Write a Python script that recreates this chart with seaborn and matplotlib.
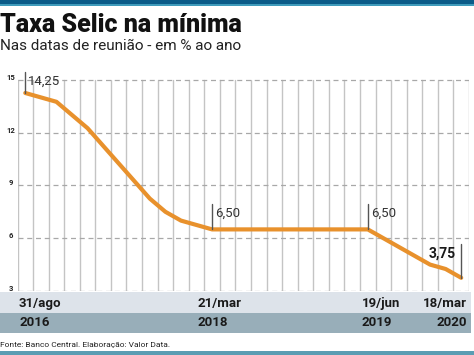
import matplotlib
matplotlib.use("Agg")
import matplotlib.pyplot as plt
import seaborn as sns
import pandas as pd
from matplotlib.patches import Rectangle

# ---- data (Copom meetings, Selic % a.a.) ----
meeting_idx = list(range(29))
selic = [14.25, 14.00, 13.75, 13.00, 12.25, 11.25, 10.25, 9.25, 8.25, 7.50,
         7.00, 6.75, 6.50, 6.50, 6.50, 6.50, 6.50, 6.50, 6.50, 6.50,
         6.50, 6.50, 6.50, 6.00, 5.50, 5.00, 4.50, 4.25, 3.75]
y_ticks = [3, 6, 9, 12, 15]
highlight_idx = [0, 12, 22, 28]
highlight_lbl = ["14,25", "6,50", "6,50", "3,75"]
date_lbl = ["31/ago", "21/mar", "19/jun", "18/mar"]
year_lbl = ["2016", "2018", "2019", "2020"]

df = pd.DataFrame({"idx": meeting_idx, "selic": selic})

sns.set_style("white")
plt.rcParams["font.family"] = ["Roboto", "DejaVu Sans"]

W, H = 474, 355
fig = plt.figure(figsize=(W / 100, H / 100), dpi=100)

def fx(px):
    return px / W

def fy(py):
    return 1 - py / H

ax = fig.add_axes([fx(17.5), fy(291), (469 - 17.5) / W, (291 - 71) / H])
ax.set_xlim(-0.5, 28.5)
ax.set_ylim(3, 15.5)

# vertical column lines
for k in range(30):
    ax.plot([k - 0.5, k - 0.5], [3, 15], color="#c4c4c4", lw=1.0, zorder=1)
# horizontal dashed lines
for t in y_ticks:
    ax.plot([-0.5, 28.5], [t, t], color="#a8a8a8", lw=0.9, ls=(0, (4, 3)), zorder=1)

sns.lineplot(data=df, x="idx", y="selic", ax=ax, color="#e8912c", lw=3.0,
             zorder=3, solid_capstyle="round", solid_joinstyle="round")

# highlight markers and labels
for i, lbl in zip(highlight_idx, highlight_lbl):
    v = selic[i]
    if i == 28:
        ax.plot([i, i], [v, v + 1.9], color="#555555", lw=1.0, zorder=4)
        ax.text(i - 0.35, v + 1.35, lbl, ha="right", va="center", fontsize=10,
                fontweight="bold", color="#1a1a1a", zorder=5)
    else:
        top = 15.45 if i == 0 else v + 1.45
        ax.plot([i, i], [v, top], color="#555555", lw=1.0, zorder=4)
        ax.text(i + 0.2, top - 0.55, lbl, ha="left", va="center", fontsize=9.5,
                color="#333333", zorder=5)

ax.set_xlabel("")
ax.set_ylabel("")
ax.set_xticks([])
ax.set_yticks([])
for s in ax.spines.values():
    s.set_visible(False)

# y tick labels
for t in y_ticks:
    fig.text(fx(10.5), fy(291 - (t - 3) * (220 / 12.5)) + (2.5 / H), str(t),
             ha="center", va="center", fontsize=5.5, fontweight="bold", color="#222222")

# bands
fig.patches.append(Rectangle((0, fy(313)), fx(471), 21 / H, transform=fig.transFigure,
                             facecolor="#dde3ea", edgecolor="none", zorder=0))
fig.patches.append(Rectangle((0, fy(333)), fx(471), 20 / H, transform=fig.transFigure,
                             facecolor="#98aeb9", edgecolor="none", zorder=0))
date_x = [19, 197, 362, 467]
for j, (d, yr) in enumerate(zip(date_lbl, year_lbl)):
    ha = "right" if j == 3 else "left"
    fig.text(fx(date_x[j]), fy(303), d, ha=ha, va="center", fontsize=9.5,
             fontweight="bold", color="#1a1a1a")
    fig.text(fx(date_x[j]), fy(323), yr, ha=ha, va="center", fontsize=9.5,
             fontweight="bold", color="#1a1a1a")

# top and bottom bars
fig.patches.append(Rectangle((0, fy(4)), 1, 4 / H, transform=fig.transFigure,
                             facecolor="#0b5b88", edgecolor="none"))
fig.patches.append(Rectangle((0, fy(6)), 1, 2 / H, transform=fig.transFigure,
                             facecolor="#3f9bbb", edgecolor="none"))
fig.patches.append(Rectangle((0, 0), 1, 4 / H, transform=fig.transFigure,
                             facecolor="#5b9db3", edgecolor="none"))

# titles
fig.text(0, fy(25), "Taxa Selic na mínima", ha="left", va="center", fontsize=18,
         fontweight="black", color="#111111")
fig.text(0, fy(46), "Nas datas de reunião - em % ao ano", ha="left", va="center",
         fontsize=11, fontweight="normal", color="#222222")
fig.text(0, fy(345), "Fonte: Banco Central. Elaboração: Valor Data.", ha="left",
         va="center", fontsize=6, color="#222222")

fig.savefig("out.png", dpi=100)
